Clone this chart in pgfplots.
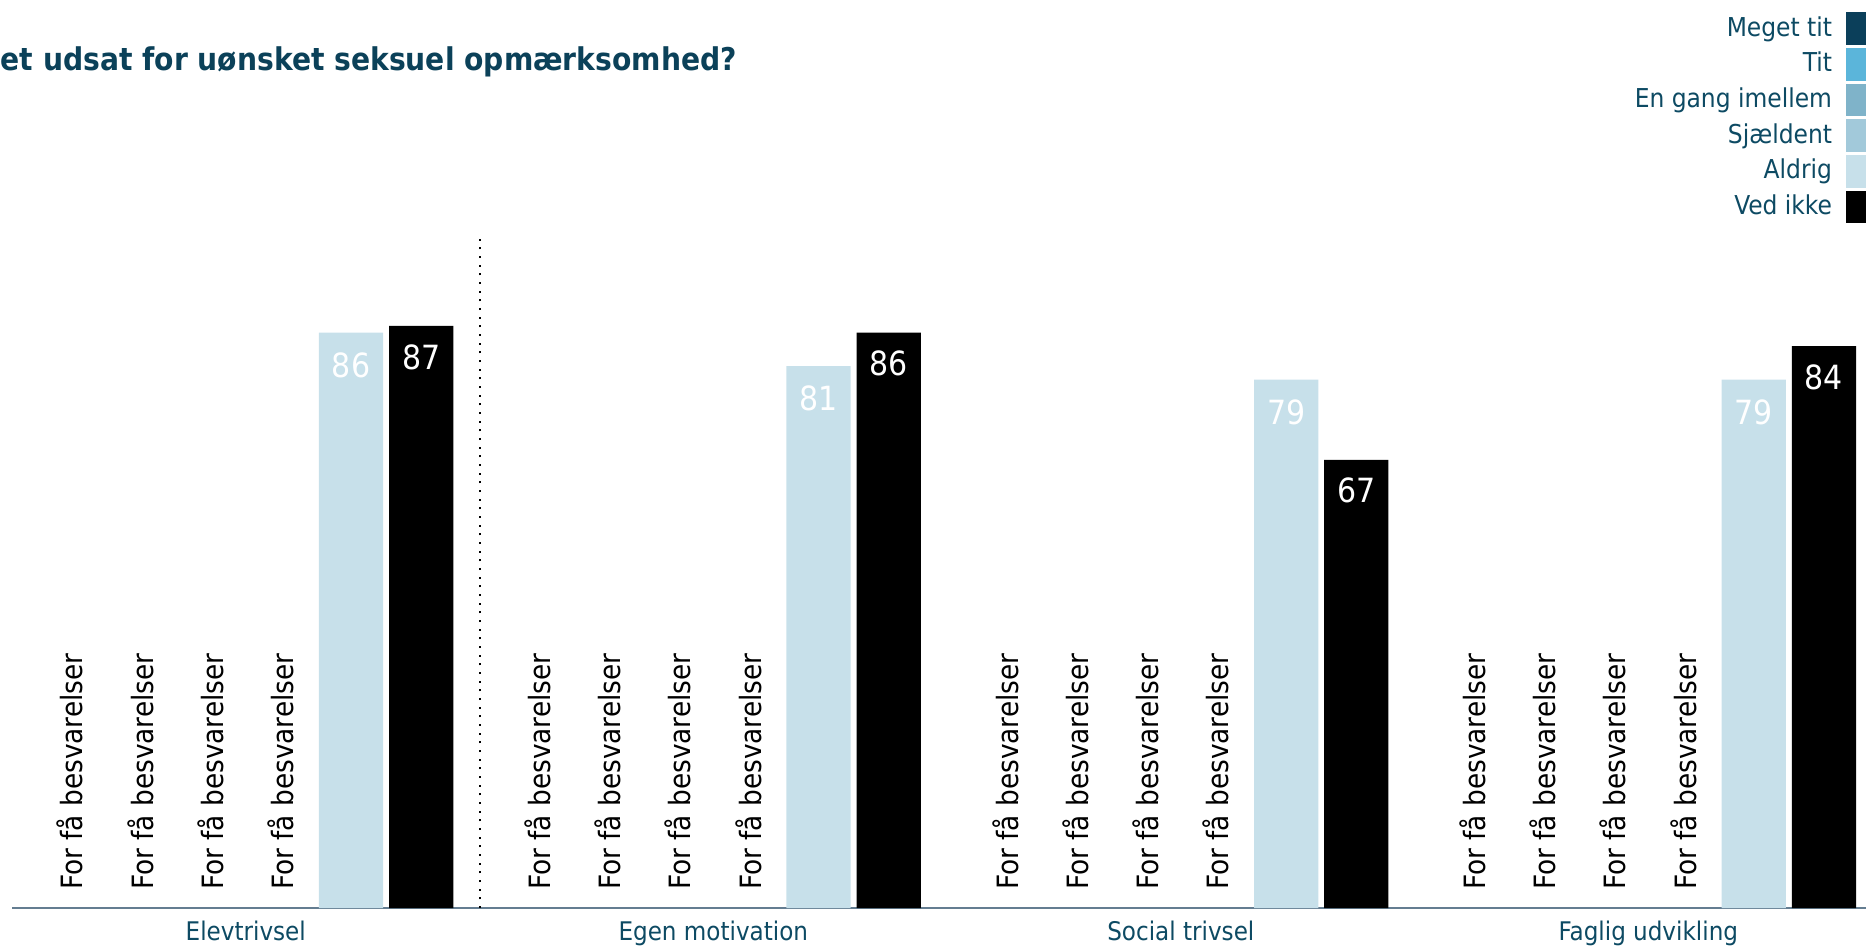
\documentclass[border=0pt]{standalone}
\usepackage{pgfplots}
\pgfplotsset{compat=1.18}
\usepackage{fontspec}
\setmainfont{DejaVu Sans Condensed}

\definecolor{megettit}{RGB}{11,63,90}
\definecolor{tit}{RGB}{91,181,218}
\definecolor{engang}{RGB}{127,179,201}
\definecolor{sjaeldent}{RGB}{162,201,218}
\definecolor{aldrig}{RGB}{199,224,234}
\definecolor{titlecol}{RGB}{11,65,89}
\definecolor{legtxt}{RGB}{13,74,99}
\definecolor{axiscol}{RGB}{100,125,145}

\pgfplotsset{
  sq legend/.style={legend image code/.code={\fill[##1] (0pt,-4.875pt) rectangle (6pt,4.875pt);}},
}

\begin{document}
\begin{tikzpicture}
\path[use as bounding box] (0pt,0pt) rectangle (559.8pt,-284.1pt);
\node[anchor=west, inner sep=0pt, text=titlecol, font=\bfseries\fontsize{9.4}{11}\selectfont] at (0pt,-18.6pt) {et udsat for uønsket seksuel opmærksomhed?};
\begin{axis}[
  at={(3.6pt,-272.4pt)}, anchor=south west,
  scale only axis, width=556.2pt, height=200.7pt,
  xmin=-0.83, xmax=25.58, ymin=0, ymax=100,
  hide y axis,
  axis x line*=bottom,
  axis line style={draw=axiscol, line width=0.5pt},
  xtick={2.5,9.16,15.82,22.48},
  xticklabels={Elevtrivsel,Egen motivation,Social trivsel,Faglig udvikling},
  major tick length=0pt,
  xticklabel style={anchor=base, inner sep=0pt, yshift=-9.6pt, text=legtxt, font=\fontsize{7.7}{9}\selectfont},
  /pgf/number format/assume math mode=true,
  clip=false,
  legend plot pos=right,
  legend cell align=right,
  legend style={at={(axis description cs:1,1.3387)}, anchor=north east, draw=none, fill=none,
    inner sep=0pt, outer sep=0pt, row sep=0.95pt, column sep=4.2pt,
    font=\fontsize{7.8}{9}\selectfont, text=legtxt, nodes={inner sep=0pt}},
]
\addlegendimage{sq legend, fill=megettit, draw=none}
\addlegendimage{sq legend, fill=tit, draw=none}
\addlegendimage{sq legend, fill=engang, draw=none}
\addlegendimage{sq legend, fill=sjaeldent, draw=none}

% Aldrig
\addplot[ybar, bar shift=0pt, bar width=0.915, fill=aldrig, draw=none, sq legend,
  nodes near coords, every node near coord/.append style={anchor=center, yshift=-9.8pt, text=white, font=\fontsize{10}{12}\selectfont}]
  coordinates {(4,86) (10.66,81) (17.32,79) (23.98,79)};
% Ved ikke
\addplot[ybar, bar shift=0pt, bar width=0.915, fill=black, draw=none, sq legend,
  nodes near coords, every node near coord/.append style={anchor=center, yshift=-9.3pt, text=white, font=\fontsize{10}{12}\selectfont}]
  coordinates {(5,87) (11.66,86) (18.32,67) (24.98,84)};

% too few answers
\addplot[draw=none, mark=none, forget plot, nodes near coords={For få besvarelser},
  every node near coord/.append style={rotate=90, anchor=west, inner sep=0pt, text=black, font=\fontsize{8.8}{10}\selectfont}]
  coordinates {(0,2.6) (1,2.6) (2,2.6) (3,2.6)
               (6.66,2.6) (7.66,2.6) (8.66,2.6) (9.66,2.6)
               (13.32,2.6) (14.32,2.6) (15.32,2.6) (16.32,2.6)
               (19.98,2.6) (20.98,2.6) (21.98,2.6) (22.98,2.6)};

\draw[dotted, line width=0.6pt] (axis cs:5.84,0) -- (axis cs:5.84,100);

\legend{Meget tit,Tit,En gang imellem,Sjældent,Aldrig,Ved ikke}
\end{axis}
\end{tikzpicture}
\end{document}
